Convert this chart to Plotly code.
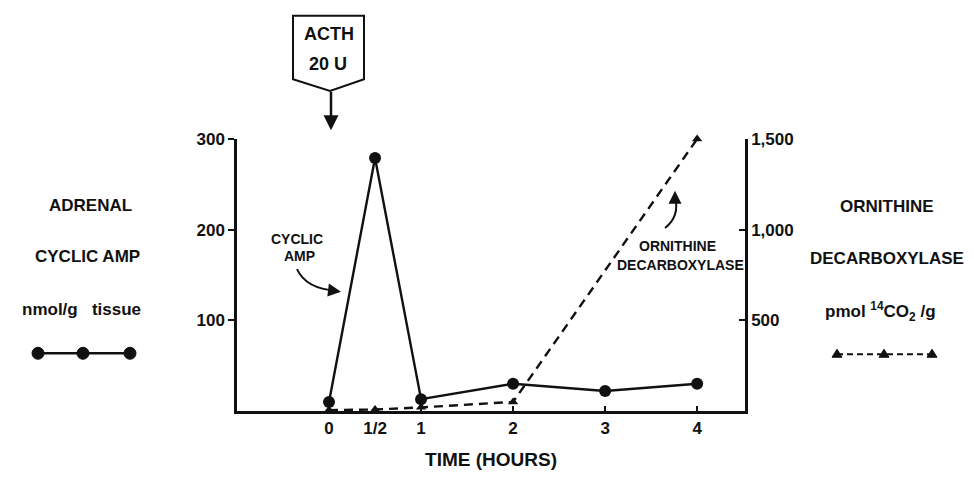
import plotly.graph_objects as go

# data
camp_time = [0, 0.5, 1, 2, 3, 4]
camp_nmol = [10, 279, 13, 30, 22, 30]

odc_time = [0, 0.5, 1, 2, 4]
odc_pmol = [5, 8, 20, 50, 1500]

x_tickvals = [0, 0.5, 1, 2, 3, 4]
x_ticktext = ["0", "1/2", "1", "2", "3", "4"]
left_tickvals = [100, 200, 300]
right_tickvals = [500, 1000, 1500]
right_ticktext = ["500", "1,000", "1,500"]

W, H = 974, 479
OFF = 8  # page body margin
L, R, T, B = 237, 745, 139, 417
FONT = "Liberation Sans"
INK = "#111111"


def px(x):
    return (x - L) / (R - L)


def py(y):
    return (B - y) / (B - T)


fig = go.Figure()
fig.add_trace(go.Scatter(
    x=camp_time, y=camp_nmol, mode="lines+markers",
    line=dict(color=INK, width=2.4),
    marker=dict(size=12, color=INK),
    name="Cyclic AMP", yaxis="y", cliponaxis=False,
))
fig.add_trace(go.Scatter(
    x=odc_time, y=odc_pmol, mode="lines+markers",
    line=dict(color=INK, width=2.4, dash="9px,6px"),
    marker=dict(size=9, color=INK, symbol="triangle-up"),
    name="Ornithine decarboxylase", yaxis="y2", cliponaxis=False,
))

shapes = []
# ACTH sign
box = [(293, 13), (364, 13), (364, 78), (330, 90), (293, 78)]
path = "M " + " L ".join(f"{px(a)},{py(b)}" for a, b in box) + " Z"
shapes.append(dict(type="path", xref="paper", yref="paper", path=path,
                   line=dict(color=INK, width=2), fillcolor="white"))

# curved pointer arrows
shapes.append(dict(type="path", xref="paper", yref="paper",
                   path=f"M {px(297)},{py(272)} Q {px(306)},{py(292)} {px(336)},{py(294)}",
                   line=dict(color=INK, width=2)))
shapes.append(dict(type="path", xref="paper", yref="paper",
                   path=f"M {px(665)},{py(230)} Q {px(680)},{py(218)} {px(675)},{py(198)}",
                   line=dict(color=INK, width=2)))

# legend keys at the sides
shapes.append(dict(type="line", xref="paper", yref="paper",
                   x0=px(38), x1=px(130), y0=py(358), y1=py(358),
                   line=dict(color=INK, width=2.4)))
for kx in [38, 83, 130]:
    shapes.append(dict(type="circle", xref="paper", yref="paper",
                       xsizemode="pixel", ysizemode="pixel",
                       xanchor=px(kx), yanchor=py(358),
                       x0=-6, x1=6, y0=-6, y1=6,
                       fillcolor=INK, line=dict(color=INK, width=1)))
shapes.append(dict(type="line", xref="paper", yref="paper",
                   x0=px(837), x1=px(932), y0=py(359), y1=py(359),
                   line=dict(color=INK, width=2, dash="6px,4px")))
for kx in [837, 884, 932]:
    shapes.append(dict(type="path", xref="paper", yref="paper",
                       xsizemode="pixel", ysizemode="pixel",
                       xanchor=px(kx), yanchor=py(359),
                       path="M -5,-3 L 5,-3 L 0,5 Z",
                       fillcolor=INK, line=dict(color=INK, width=1)))


def txt(x, y, s, size=18, anchor="center"):
    return dict(x=px(x), y=py(y), xref="paper", yref="paper",
                text=f"<b>{s}</b>", showarrow=False,
                xanchor=anchor, yanchor="middle",
                font=dict(family=FONT, size=size, color=INK))


annotations = [
    txt(329, 32, "ACTH", 18),
    txt(328, 62, "20 U", 18),
    txt(90, 207, "ADRENAL", 17),
    txt(87, 259, "CYCLIC AMP", 17),
    txt(81, 313, "nmol/g&nbsp;&nbsp;&nbsp;tissue", 17),
    txt(887, 208, "ORNITHINE", 17),
    txt(887, 261, "DECARBOXYLASE", 17),
    txt(880, 315, "pmol <sup>14</sup>CO<sub>2</sub> /g", 17),
    txt(297, 241, "CYCLIC", 14),
    txt(299, 259, "AMP", 14),
    txt(677, 248, "ORNITHINE", 14),
    txt(680, 268, "DECARBOXYLASE", 14),
    # arrow below sign
    dict(x=px(331), y=py(130), xref="paper", yref="paper", text="",
         showarrow=True, ax=0, ay=-40, arrowhead=2, arrowsize=1.2,
         arrowwidth=2.5, arrowcolor=INK),
    # arrowheads for the curved pointers
    dict(x=px(341), y=py(295), xref="paper", yref="paper", text="",
         showarrow=True, ax=-8, ay=-1, arrowhead=2, arrowsize=1.3,
         arrowwidth=2, arrowcolor=INK),
    dict(x=px(675), y=py(192), xref="paper", yref="paper", text="",
         showarrow=True, ax=0, ay=9, arrowhead=2, arrowsize=1.3,
         arrowwidth=2, arrowcolor=INK),
]

tickfont = dict(family=FONT, size=17, color=INK)
fig.update_layout(
    width=W - OFF, height=H - OFF, autosize=False,
    margin=dict(l=L - OFF, r=W - R, t=T - OFF, b=H - B),
    plot_bgcolor="white", paper_bgcolor="white",
    showlegend=False,
    font=dict(family=FONT, size=17, color=INK),
    shapes=shapes, annotations=annotations,
    xaxis=dict(
        range=[-1, 4.52], tickvals=x_tickvals, ticktext=[f"<b>{t}</b>" for t in x_ticktext],
        showline=True, linecolor=INK, linewidth=2.5,
        ticks="inside", ticklen=5, tickwidth=2, tickcolor=INK,
        showgrid=False, zeroline=False,
        title=dict(text="<b>TIME (HOURS)</b>", font=dict(size=19), standoff=16),
        tickfont=tickfont,
    ),
    yaxis=dict(
        range=[0, 300], tickvals=left_tickvals,
        ticktext=[f"<b>{v}</b>" for v in left_tickvals],
        showline=True, linecolor=INK, linewidth=2.5,
        ticks="outside", ticklen=6, tickwidth=2, tickcolor=INK,
        showgrid=False, zeroline=False, tickfont=tickfont,
    ),
    yaxis2=dict(
        range=[0, 1500], tickvals=right_tickvals,
        ticktext=[f"<b>{t}</b>" for t in right_ticktext],
        overlaying="y", side="right",
        showline=True, linecolor=INK, linewidth=2.5,
        ticks="inside", ticklen=6, tickwidth=2, tickcolor=INK,
        showgrid=False, zeroline=False, tickfont=tickfont,
    ),
)

fig.write_html("out.html")
